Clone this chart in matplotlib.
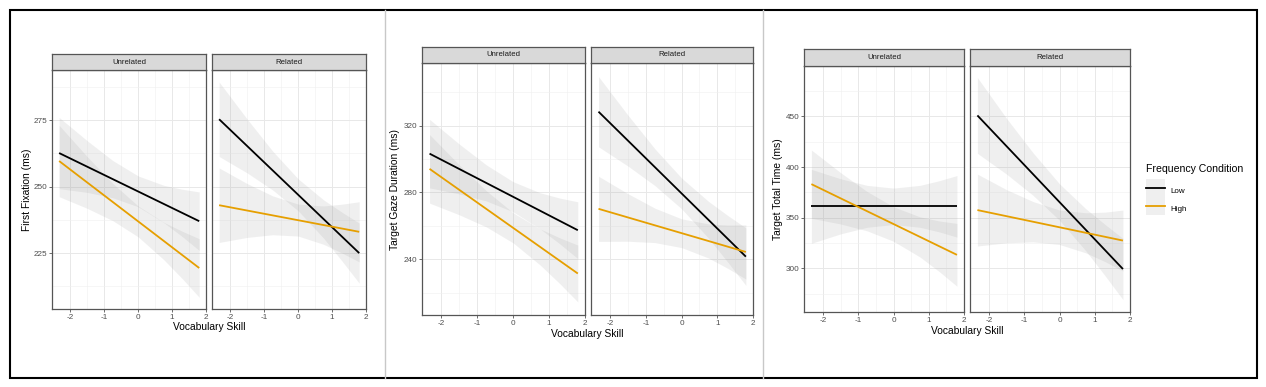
import numpy as np
import matplotlib.pyplot as plt
from matplotlib.lines import Line2D
from matplotlib.patches import Patch, Rectangle
from matplotlib.legend_handler import HandlerTuple, HandlerPatch

plt.rcParams['font.family'] = ['Liberation Sans', 'DejaVu Sans']
plt.rcParams['axes.unicode_minus'] = False

W, H = 1266, 387

facets = ['Unrelated', 'Related']
conds = ['Low', 'High']
cond_colors = ['#000000', '#E69F00']
x_label = 'Vocabulary Skill'
x_ticks = [-2, -1, 0, 1, 2]
x_minor = [-1.5, -0.5, 0.5, 1.5]
x_ends = [-2.33, 1.8]
x_band = [-2.33, -1.5, -0.75, 0, 0.75, 1.3, 1.8]

# First Fixation (ms)
ff_u_low = [262.6, 237.0]
ff_u_low_lo = [249.2, 247.8, 245.8, 242.4, 236.5, 231.2, 226.0]
ff_u_low_hi = [276.0, 267.2, 259.8, 254.0, 250.5, 249.0, 248.0]
ff_u_high = [259.6, 219.4]
ff_u_high_lo = [246.2, 241.8, 237.2, 231.1, 222.6, 215.4, 208.4]
ff_u_high_hi = [273.0, 261.2, 251.2, 242.7, 236.6, 233.2, 230.4]
ff_r_low = [275.3, 225.0]
ff_r_low_lo = [261.3, 255.1, 248.7, 240.9, 230.6, 221.9, 213.7]
ff_r_low_hi = [289.3, 275.3, 263.3, 252.9, 245.0, 240.3, 236.3]
ff_r_high = [243.0, 233.0]
ff_r_high_lo = [229.0, 230.9, 231.9, 231.4, 228.3, 225.0, 221.7]
ff_r_high_hi = [257.0, 251.1, 246.5, 243.4, 242.7, 243.4, 244.3]

# Target Gaze Duration (ms)
gd_u_low = [303.2, 257.4]
gd_u_low_lo = [282.7, 279.1, 274.9, 268.4, 258.2, 249.2, 240.4]
gd_u_low_hi = [323.7, 308.9, 296.5, 286.4, 279.8, 276.6, 274.4]
gd_u_high = [294.1, 231.5]
gd_u_high_lo = [273.6, 266.6, 259.4, 249.8, 236.6, 225.4, 214.5]
gd_u_high_hi = [314.6, 296.4, 281.0, 267.8, 258.2, 252.8, 248.5]
gd_r_low = [328.3, 241.6]
gd_r_low_lo = [307.3, 295.7, 284.1, 270.2, 252.7, 238.1, 224.4]
gd_r_low_hi = [349.3, 326.1, 306.1, 288.6, 274.7, 266.1, 258.8]
gd_r_high = [270.2, 244.4]
gd_r_high_lo = [250.7, 250.8, 250.0, 247.0, 240.8, 234.5, 228.2]
gd_r_high_hi = [289.7, 279.2, 270.6, 264.2, 261.2, 260.5, 260.6]

# Target Total Time (ms)
tt_u_low = [361.3, 361.3]
tt_u_low_lo = [324.8, 334.1, 340.6, 343.3, 340.6, 336.0, 330.9]
tt_u_low_hi = [397.8, 388.5, 382.0, 379.3, 382.0, 386.6, 391.7]
tt_u_high = [383.2, 313.4]
tt_u_high_lo = [349.5, 343.9, 337.1, 326.8, 311.3, 296.8, 282.4]
tt_u_high_hi = [416.9, 394.5, 375.9, 360.8, 350.9, 346.8, 344.4]
tt_r_low = [451.0, 299.4]
tt_r_low_lo = [413.6, 393.0, 372.1, 347.5, 317.2, 292.4, 269.2]
tt_r_low_hi = [488.4, 448.0, 414.1, 383.5, 358.8, 343.2, 329.6]
tt_r_high = [357.6, 327.5]
tt_r_high_lo = [322.1, 325.3, 326.2, 323.6, 315.3, 306.6, 297.4]
tt_r_high_hi = [393.1, 377.7, 366.0, 357.6, 354.9, 355.6, 357.6]

groups = [
    dict(ylabel='First Fixation (ms)', yticks=[225, 250, 275],
         yminor=[212.5, 237.5, 262.5, 287.5], ylim=(204, 293.8),
         px=(52, 206, 212, 366, 54, 70, 309), ylab_x=27, xlab_y=327,
         lines=[[ff_u_low, ff_u_high], [ff_r_low, ff_r_high]],
         lo=[[ff_u_low_lo, ff_u_high_lo], [ff_r_low_lo, ff_r_high_lo]],
         hi=[[ff_u_low_hi, ff_u_high_hi], [ff_r_low_hi, ff_r_high_hi]]),
    dict(ylabel='Target Gaze Duration (ms)', yticks=[240, 280, 320],
         yminor=[220, 260, 300, 340], ylim=(206.7, 357.4),
         px=(422, 585, 591, 753, 47, 63, 315), ylab_x=395, xlab_y=334,
         lines=[[gd_u_low, gd_u_high], [gd_r_low, gd_r_high]],
         lo=[[gd_u_low_lo, gd_u_high_lo], [gd_r_low_lo, gd_r_high_lo]],
         hi=[[gd_u_low_hi, gd_u_high_hi], [gd_r_low_hi, gd_r_high_hi]]),
    dict(ylabel='Target Total Time (ms)', yticks=[300, 350, 400, 450],
         yminor=[275, 325, 375, 425, 475], ylim=(257, 499.8),
         px=(804, 964, 970, 1130, 49, 66, 312), ylab_x=778, xlab_y=331,
         lines=[[tt_u_low, tt_u_high], [tt_r_low, tt_r_high]],
         lo=[[tt_u_low_lo, tt_u_high_lo], [tt_r_low_lo, tt_r_high_lo]],
         hi=[[tt_u_low_hi, tt_u_high_hi], [tt_r_low_hi, tt_r_high_hi]]),
]

fig = plt.figure(figsize=(W / 100, H / 100), dpi=100)


def px_axes(x0, y0, x1, y1):
    return fig.add_axes([x0 / W, 1 - y1 / H, (x1 - x0) / W, (y1 - y0) / H])


for g in groups:
    a0, a1, b0, b1, st, pt, pb = g['px']
    for k, (x0, x1) in enumerate([(a0, a1), (b0, b1)]):
        ax = px_axes(x0, pt, x1, pb)
        for c in range(2):
            ax.fill_between(x_band, g['lo'][k][c], g['hi'][k][c],
                            color='#999999', alpha=0.15, lw=0)
        for c in range(2):
            ax.plot(x_ends, g['lines'][k][c], color=cond_colors[c], lw=1.3,
                    solid_capstyle='butt')
        ax.set_xlim(-2.54, 2.0)
        ax.set_ylim(*g['ylim'])
        ax.set_xticks(x_ticks)
        ax.set_xticks(x_minor, minor=True)
        ax.set_yticks(g['yticks'])
        ax.set_yticks(g['yminor'], minor=True)
        ax.set_axisbelow(True)
        ax.grid(which='major', color='#E8E8E8', lw=0.7)
        ax.grid(which='minor', color='#F0F0F0', lw=0.4)
        ax.tick_params(which='minor', length=0)
        ax.tick_params(which='major', length=2, width=0.6, pad=1.5,
                       labelsize=5.9, color='#555555', labelcolor='#4D4D4D')
        if k == 1:
            ax.tick_params(axis='y', which='both', left=False, labelleft=False)
        for s in ax.spines.values():
            s.set_color('#555555')
            s.set_linewidth(0.9)
        # facet strip
        sx = px_axes(x0, st, x1, pt)
        sx.set_facecolor('#D9D9D9')
        sx.set_xticks([])
        sx.set_yticks([])
        for s in sx.spines.values():
            s.set_color('#555555')
            s.set_linewidth(0.9)
        sx.text(0.5, 0.5, facets[k], ha='center', va='center', fontsize=5.6,
                color='#1A1A1A', transform=sx.transAxes)
    fig.text(g['ylab_x'] / W, 1 - (pt + pb) / 2 / H, g['ylabel'], rotation=90,
             ha='center', va='center', fontsize=7.4)
    fig.text((a0 + b1) / 2 / W, 1 - g['xlab_y'] / H, x_label,
             ha='center', va='center', fontsize=7.4)


def key_box(legend, orig_handle, xdescent, ydescent, width, height, fontsize):
    # gray key background centred on the key line
    yc = (height - ydescent) / 2
    return Rectangle((-xdescent, yc - height / 2), width, height)


handles = [(Patch(facecolor='#EFEFEF', edgecolor='none'),
            Line2D([], [], color=c, lw=1.3)) for c in cond_colors]
fig.legend(handles, conds, loc='upper left',
           bbox_to_anchor=(1146 / W, 1 - 182 / H), frameon=False,
           fontsize=5.8, handlelength=2.36,
           handleheight=3.06, handletextpad=0.62, labelspacing=0.0,
           borderpad=0, borderaxespad=0,
           handler_map={tuple: HandlerTuple(ndivide=1, pad=0),
                        Patch: HandlerPatch(patch_func=key_box)})
fig.text(1146.5 / W, 1 - 169 / H, 'Frequency Condition', ha='left',
         va='center', fontsize=7.6)

# outer frame and dividers between the three plots
fig.add_artist(Rectangle((10 / W, 1 - 378 / H), 1247 / W, 368 / H,
                         transform=fig.transFigure, fill=False,
                         ec='black', lw=1.5))
for xd in [385, 763]:
    fig.add_artist(Line2D([xd / W, xd / W], [1 - 10 / H, 1 - 378 / H],
                          transform=fig.transFigure, color='#C8C8C8', lw=1))

fig.savefig('out.png', dpi=100)
